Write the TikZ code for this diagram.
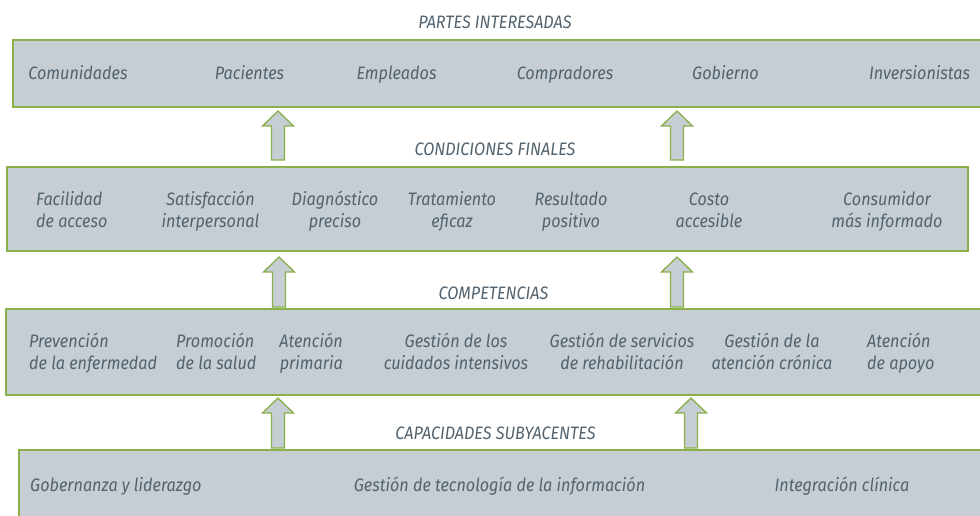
\documentclass[tikz,border=0pt]{standalone}
\usepackage{fontspec}
\newfontfamily\lbl[FakeStretch=0.9]{Fira Sans}
\usetikzlibrary{calc}
\definecolor{boxfill}{HTML}{C6CDD3}
\definecolor{boxline}{HTML}{8AB04A}
\definecolor{txt}{HTML}{52636F}
\newcommand\lk{\rule[-5bp]{0pt}{20bp}}
\tikzset{
  layer/.style={fill=boxfill, draw=boxline, line width=1.5bp},
  lab/.style={font=\lbl\itshape\fontsize{18bp}{22bp}\selectfont, text=txt, inner sep=0pt},
  ttl/.style={lab},
  arr/.style={fill=boxfill, draw=boxline, line width=1.3bp, line join=miter},
}
\newcommand\blockarrow[2]{%
  \draw[arr] let \p1=(#1), \p2=(#2) in
   (\x1-6.5bp,\y1) -- (\x1-6.5bp,\y2-15bp) -- (\x1-15.5bp,\y2-15bp) -- (\x2,\y2)
   -- (\x1+15.5bp,\y2-15bp) -- (\x1+6.5bp,\y2-15bp) -- (\x1+6.5bp,\y1) -- cycle;}
\begin{document}
\begin{tikzpicture}[x=1bp,y=-1bp]
\useasboundingbox[fill=white] (0,0) rectangle (980,516);
% layers
\draw[layer] (13,40) rectangle (992,107);
\draw[layer] (7,167) rectangle (968,251);
\draw[layer] (6,309) rectangle (992,395);
\draw[layer] (19,450) rectangle (992,530);
% titles (baselines)
\node[ttl, anchor=base] (t1) at (495,29) {PARTES INTERESADAS};
\node[ttl, anchor=base] (t2) at (495,156) {CONDICIONES FINALES};
\node[ttl, anchor=base] (t3) at (493.5,300) {COMPETENCIAS};
\node[ttl, anchor=base] (t4) at (495.5,439) {CAPACIDADES SUBYACENTES};
% stakeholders
\node[lab, anchor=base] (p1) at (78,80) {Comunidades};
\node[lab, anchor=base] (p2) at (249.5,80) {Pacientes};
\node[lab, anchor=base] (p3) at (396.5,80) {Empleados};
\node[lab, anchor=base] (p4) at (565,80) {Compradores};
\node[lab, anchor=base] (p5) at (725.5,80) {Gobierno};
\node[lab, anchor=base] (p6) at (919.5,80) {Inversionistas};
% end conditions
\node[lab, align=left, anchor=west] (c1) at (36,212) {\lk Facilidad\\\lk de acceso};
\node[lab, align=center] (c2) at (210.5,212) {\lk Satisfacción\\\lk interpersonal};
\node[lab, align=center] (c3) at (335,212) {\lk Diagnóstico\\\lk preciso};
\node[lab, align=center] (c4) at (452,212) {\lk Tratamiento\\\lk eficaz};
\node[lab, align=center] (c5) at (571,212) {\lk Resultado\\\lk positivo};
\node[lab, align=center] (c6) at (709,212) {\lk Costo\\\lk accesible};
\node[lab, align=center] (c7) at (887,212) {\lk Consumidor\\\lk más informado};
% competencies
\node[lab, align=left, anchor=west] (k1) at (29,353) {\lk Prevención\\\lk de la enfermedad};
\node[lab, align=left, anchor=west] (k2) at (176,353) {\lk Promoción\\\lk de la salud};
\node[lab, align=right, anchor=east] (k3) at (343,353) {\lk Atención\\\lk primaria};
\node[lab, align=center] (k4) at (456,353) {\lk Gestión de los\\\lk cuidados intensivos};
\node[lab, align=center] (k5) at (622,353) {\lk Gestión de servicios\\\lk de rehabilitación};
\node[lab, align=center] (k6) at (772,353) {\lk Gestión de la\\\lk atención crónica};
\node[lab, align=left, anchor=west] (k7) at (867,353) {\lk Atención\\\lk de apoyo};
% capabilities
\node[lab, anchor=base west] (u1) at (30,491) {Gobernanza y liderazgo};
\node[lab, anchor=base] (u2) at (499.5,491) {Gestión de tecnología de la información};
\node[lab, anchor=base] (u3) at (842,491) {Integración clínica};
% arrows
\coordinate (a1s) at (278,160); \coordinate (a1e) at (278,111);
\coordinate (a2s) at (677,160); \coordinate (a2e) at (677,111);
\coordinate (a3s) at (279,307); \coordinate (a3e) at (279,257);
\coordinate (a4s) at (677,307); \coordinate (a4e) at (677,257);
\coordinate (a5s) at (278,448); \coordinate (a5e) at (278,398);
\coordinate (a6s) at (691,448); \coordinate (a6e) at (691,398);
\blockarrow{a1s}{a1e}
\blockarrow{a2s}{a2e}
\blockarrow{a3s}{a3e}
\blockarrow{a4s}{a4e}
\blockarrow{a5s}{a5e}
\blockarrow{a6s}{a6e}
\end{tikzpicture}
\end{document}
